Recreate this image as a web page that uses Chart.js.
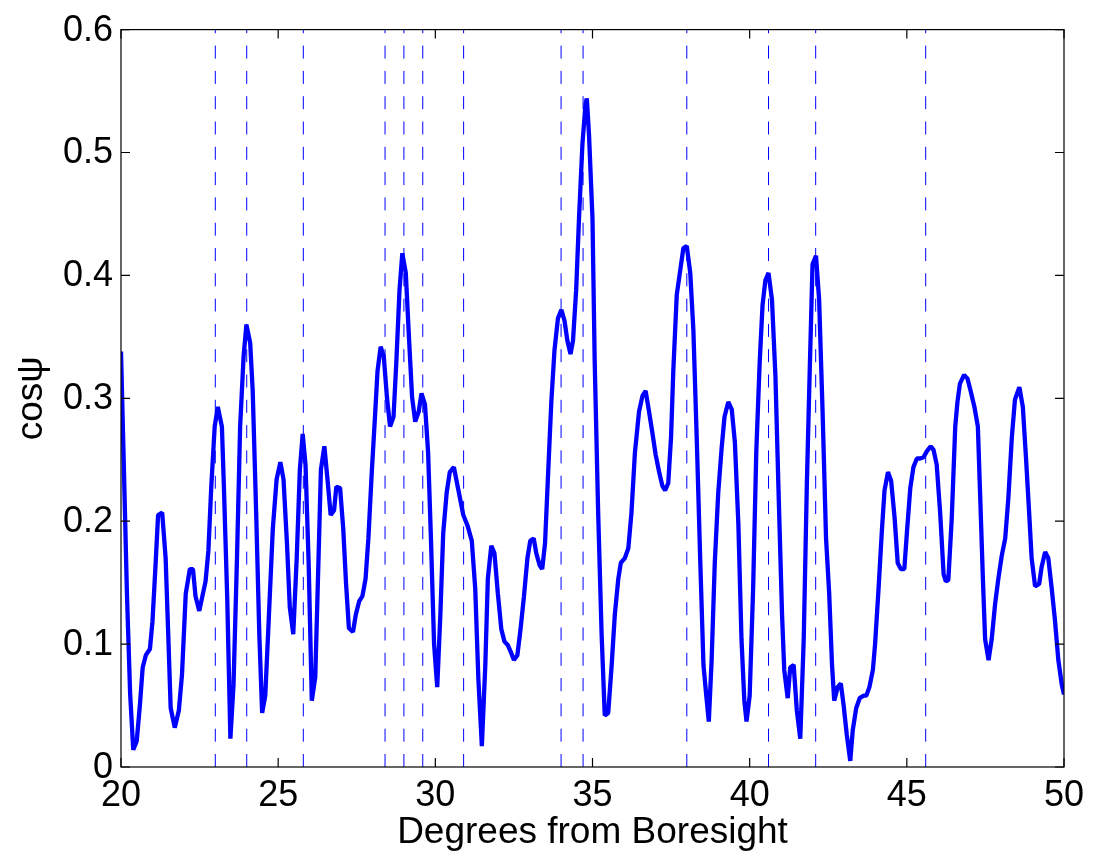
<!DOCTYPE html>
<html>
<head>
<meta charset="utf-8">
<script src="https://cdn.jsdelivr.net/npm/chart.js@4.4.1/dist/chart.umd.min.js"></script>
<style>
  html, body { margin: 0; padding: 0; background: #fff; }
  #wrap { width: 1096px; height: 853px; }
</style>
</head>
<body>
<div id="wrap"><canvas id="beamChart" width="1096" height="853"></canvas></div>
<script>
// angle off boresight (deg) and cos(psi) samples
const degrees = [
  20.00, 20.09, 20.19, 20.29, 20.39, 20.50, 20.60, 20.69, 20.79, 20.92,
  21.00, 21.09, 21.18, 21.31, 21.42, 21.50, 21.58, 21.71, 21.84, 21.94,
  22.06, 22.19, 22.29, 22.37, 22.49, 22.59, 22.69, 22.78, 22.87, 22.98,
  23.08, 23.21, 23.27, 23.38, 23.48, 23.58, 23.69, 23.79, 23.90, 23.99,
  24.11, 24.19, 24.30, 24.40, 24.49, 24.59, 24.70, 24.83, 24.95, 25.07,
  25.17, 25.28, 25.37, 25.48, 25.59, 25.69, 25.78, 25.87, 25.97, 26.07,
  26.18, 26.28, 26.36, 26.47, 26.58, 26.67, 26.78, 26.85, 26.97, 27.07,
  27.16, 27.25, 27.38, 27.47, 27.58, 27.68, 27.78, 27.87, 27.97, 28.08,
  28.16, 28.26, 28.36, 28.46, 28.56, 28.67, 28.76, 28.86, 28.95, 29.06,
  29.15, 29.26, 29.36, 29.47, 29.56, 29.67, 29.77, 29.86, 29.96, 30.06,
  30.16, 30.25, 30.36, 30.46, 30.59, 30.72, 30.89, 31.03, 31.16, 31.27,
  31.37, 31.48, 31.59, 31.67, 31.78, 31.88, 31.99, 32.10, 32.20, 32.31,
  32.41, 32.50, 32.61, 32.71, 32.82, 32.93, 33.02, 33.13, 33.21, 33.32,
  33.40, 33.49, 33.59, 33.69, 33.79, 33.90, 34.01, 34.11, 34.20, 34.30,
  34.38, 34.48, 34.57, 34.68, 34.78, 34.82, 34.89, 35.00, 35.07, 35.18,
  35.29, 35.39, 35.50, 35.61, 35.71, 35.82, 35.90, 36.03, 36.14, 36.24,
  36.35, 36.48, 36.59, 36.69, 36.80, 36.91, 37.01, 37.12, 37.22, 37.31,
  37.41, 37.50, 37.57, 37.68, 37.79, 37.89, 38.00, 38.11, 38.21, 38.32,
  38.43, 38.53, 38.62, 38.70, 38.79, 38.89, 39.00, 39.11, 39.20, 39.32,
  39.43, 39.53, 39.64, 39.74, 39.83, 39.90, 40.00, 40.11, 40.21, 40.32,
  40.41, 40.50, 40.60, 40.71, 40.82, 40.92, 41.03, 41.10, 41.21, 41.29,
  41.40, 41.50, 41.61, 41.72, 41.82, 41.91, 42.00, 42.11, 42.21, 42.32,
  42.43, 42.53, 42.62, 42.69, 42.80, 42.90, 42.99, 43.09, 43.20, 43.28,
  43.39, 43.50, 43.62, 43.71, 43.81, 43.92, 43.99, 44.10, 44.21, 44.29,
  44.40, 44.50, 44.61, 44.71, 44.81, 44.92, 45.00, 45.11, 45.21, 45.32,
  45.42, 45.53, 45.64, 45.76, 45.85, 45.95, 46.06, 46.17, 46.24, 46.32,
  46.43, 46.54, 46.61, 46.69, 46.82, 46.93, 47.03, 47.15, 47.26, 47.33,
  47.42, 47.49, 47.60, 47.70, 47.81, 47.91, 48.02, 48.13, 48.23, 48.34,
  48.44, 48.58, 48.69, 48.79, 48.90, 48.97, 49.08, 49.21, 49.29, 49.40,
  49.50, 49.61, 49.71, 49.82, 49.93, 50.00
];
const cosPsi = [
  0.338, 0.245, 0.140, 0.060, 0.014, 0.021, 0.050, 0.081, 0.091, 0.096,
  0.118, 0.160, 0.205, 0.207, 0.170, 0.110, 0.048, 0.032, 0.046, 0.075,
  0.141, 0.161, 0.161, 0.139, 0.127, 0.139, 0.151, 0.176, 0.227, 0.277,
  0.293, 0.277, 0.231, 0.137, 0.023, 0.067, 0.170, 0.277, 0.334, 0.360,
  0.345, 0.306, 0.207, 0.108, 0.044, 0.058, 0.120, 0.194, 0.234, 0.248,
  0.234, 0.182, 0.130, 0.108, 0.170, 0.242, 0.271, 0.246, 0.166, 0.054,
  0.073, 0.166, 0.242, 0.261, 0.231, 0.205, 0.209, 0.228, 0.227, 0.194,
  0.149, 0.113, 0.110, 0.124, 0.135, 0.139, 0.153, 0.186, 0.236, 0.285,
  0.322, 0.342, 0.334, 0.301, 0.277, 0.285, 0.330, 0.388, 0.418, 0.402,
  0.355, 0.301, 0.281, 0.289, 0.304, 0.295, 0.256, 0.186, 0.100, 0.065,
  0.124, 0.190, 0.223, 0.240, 0.244, 0.227, 0.205, 0.196, 0.184, 0.145,
  0.071, 0.017, 0.083, 0.153, 0.180, 0.174, 0.141, 0.112, 0.102, 0.099,
  0.093, 0.087, 0.091, 0.112, 0.139, 0.170, 0.184, 0.186, 0.174, 0.164,
  0.161, 0.182, 0.240, 0.297, 0.339, 0.365, 0.372, 0.363, 0.347, 0.336,
  0.347, 0.388, 0.446, 0.507, 0.540, 0.544, 0.514, 0.446, 0.330, 0.207,
  0.108, 0.042, 0.044, 0.083, 0.124, 0.153, 0.166, 0.170, 0.178, 0.207,
  0.256, 0.289, 0.302, 0.306, 0.289, 0.271, 0.254, 0.240, 0.229, 0.225,
  0.231, 0.269, 0.322, 0.384, 0.404, 0.422, 0.424, 0.402, 0.355, 0.264,
  0.166, 0.083, 0.058, 0.037, 0.087, 0.166, 0.223, 0.260, 0.285, 0.297,
  0.291, 0.264, 0.198, 0.104, 0.054, 0.037, 0.058, 0.145, 0.256, 0.330,
  0.376, 0.396, 0.402, 0.380, 0.318, 0.223, 0.124, 0.079, 0.056, 0.081,
  0.083, 0.046, 0.023, 0.104, 0.231, 0.322, 0.409, 0.416, 0.380, 0.289,
  0.186, 0.141, 0.083, 0.054, 0.065, 0.068, 0.050, 0.026, 0.005, 0.030,
  0.048, 0.056, 0.058, 0.058, 0.065, 0.079, 0.100, 0.145, 0.194, 0.225,
  0.240, 0.233, 0.203, 0.166, 0.161, 0.161, 0.190, 0.227, 0.244, 0.251,
  0.251, 0.252, 0.257, 0.261, 0.258, 0.246, 0.207, 0.157, 0.151, 0.152,
  0.203, 0.277, 0.297, 0.312, 0.319, 0.316, 0.306, 0.293, 0.277, 0.223,
  0.153, 0.104, 0.087, 0.104, 0.133, 0.153, 0.172, 0.186, 0.219, 0.268,
  0.299, 0.309, 0.293, 0.252, 0.203, 0.170, 0.147, 0.149, 0.163, 0.175,
  0.170, 0.145, 0.120, 0.087, 0.067, 0.059
];
// dashed marker angles
const markerAngles = [23.0, 24.0, 25.8, 28.4, 29.0, 29.6, 30.9, 34.0, 34.7, 38.0, 40.6, 42.1, 45.6];

const xTicks = [20, 25, 30, 35, 40, 45, 50];
const xTickLabels = ['20', '25', '30', '35', '40', '45', '50'];
const yTicks = [0, 0.1, 0.2, 0.3, 0.4, 0.5, 0.6];
const yTickLabels = ['0', '0.1', '0.2', '0.3', '0.4', '0.5', '0.6'];

const FONT = '"Liberation Sans", Arial, Helvetica, sans-serif';

// box around the plot with inward tick marks on all four sides
const frameTicks = {
    id: 'frameTicks',
    afterDatasetsDraw(chart) {
        const { ctx, chartArea: a, scales: { x, y } } = chart;
        const len = 9;
        ctx.save();
        ctx.strokeStyle = '#000';
        ctx.lineWidth = 1.2;
        ctx.beginPath();
        xTicks.forEach(v => {
            const px = x.getPixelForValue(v);
            ctx.moveTo(px, a.bottom); ctx.lineTo(px, a.bottom - len);
            ctx.moveTo(px, a.top); ctx.lineTo(px, a.top + len);
        });
        yTicks.forEach(v => {
            const py = y.getPixelForValue(v);
            ctx.moveTo(a.left, py); ctx.lineTo(a.left + len, py);
            ctx.moveTo(a.right, py); ctx.lineTo(a.right - len, py);
        });
        ctx.stroke();
        ctx.strokeRect(a.left, a.top, a.right - a.left, a.bottom - a.top);
        ctx.restore();
    }
};

const curve = {
    data: degrees.map((d, i) => ({ x: d, y: cosPsi[i] })),
    borderColor: '#0000ff',
    borderWidth: 4.3,
    borderJoinStyle: 'bevel',
    pointRadius: 0,
    tension: 0
};

const markers = markerAngles.map(a => ({
    data: [{ x: a, y: 0 }, { x: a, y: 0.6 }],
    borderColor: '#0000ff',
    borderWidth: 1,
    borderDash: [13, 12.3],
    pointRadius: 0
}));

new Chart(document.getElementById('beamChart'), {
    type: 'line',
    data: { datasets: [curve, ...markers] },
    options: {
        responsive: false,
        animation: false,
        devicePixelRatio: 1,
        layout: { padding: { top: 23, right: 32, left: 0, bottom: 0 } },
        plugins: { legend: { display: false }, tooltip: { enabled: false } },
        scales: {
            x: {
                type: 'linear',
                min: 20,
                max: 50,
                afterFit: s => { s.height = 86; },
                afterBuildTicks: s => { s.ticks = xTicks.map(v => ({ value: v })); },
                grid: { display: false, drawTicks: false },
                border: { display: false },
                ticks: {
                    color: '#000',
                    padding: 7,
                    maxRotation: 0,
                    font: { family: FONT, size: 36 },
                    callback: (v, i) => xTickLabels[i]
                },
                title: {
                    display: true,
                    text: 'Degrees from Boresight',
                    color: '#000',
                    padding: { top: 0, bottom: 2 },
                    font: { family: FONT, size: 37, lineHeight: 1 }
                }
            },
            y: {
                min: 0,
                max: 0.6,
                afterFit: s => { s.width = 121; },
                afterBuildTicks: s => { s.ticks = yTicks.map(v => ({ value: v })); },
                grid: { display: false, drawTicks: false },
                border: { display: false },
                ticks: {
                    color: '#000',
                    padding: 8,
                    labelOffset: 1,
                    font: { family: FONT, size: 36 },
                    callback: (v, i) => yTickLabels[i]
                },
                title: {
                    display: true,
                    text: 'cosψ',
                    color: '#000',
                    padding: { top: 13, bottom: 0 },
                    font: { family: FONT, size: 37, lineHeight: 1 }
                }
            }
        }
    },
    plugins: [frameTicks]
});
</script>
</body>
</html>
